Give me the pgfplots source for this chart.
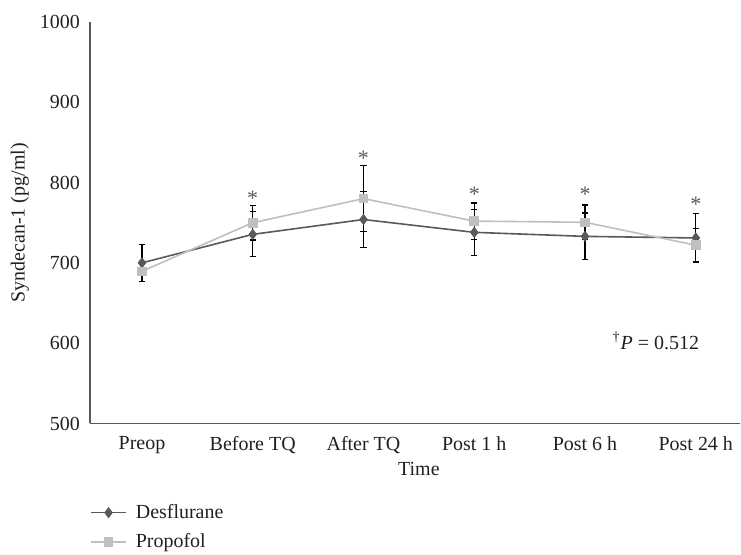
\documentclass[border=0pt]{standalone}
\usepackage{pgfplots}
\pgfplotsset{compat=1.18}
\usepackage{fontspec}
\setmainfont{Liberation Serif}
\definecolor{desc}{HTML}{595959}
\definecolor{propc}{HTML}{BFBFBF}
\definecolor{axc}{HTML}{595959}
\definecolor{txt}{HTML}{231F20}
\begin{document}
\begin{tikzpicture}
\begin{axis}[
  name=ax, scale only axis, width=325.5pt, height=201pt,
  xmin=-0.47, xmax=5.4, ymin=500, ymax=1000,
  axis lines=left, axis line style={axc, line width=0.9pt, -},
  xtick={0,...,5},
  xticklabels={Preop, Before TQ, After TQ, Post 1 h, Post 6 h, Post 24 h},
  ytick={500,600,...,1000},
  major tick length=0pt,
  tick label style={font=\fontsize{10}{12}\selectfont, text=txt},
  xticklabel style={yshift=-3pt},
  yticklabel style={xshift=-1.5pt},
  /pgf/number format/assume math mode=true,
  /pgf/number format/1000 sep={},
  xlabel={Time},
  xlabel style={at={(axis description cs:0.506,0)}, anchor=base, yshift=-26pt, font=\fontsize{10}{12}\selectfont, text=txt},
  ylabel={Syndecan-1 (pg/ml)},
  ylabel style={at={(axis description cs:0,0.5)}, anchor=center, rotate=0, yshift=35pt, font=\fontsize{10}{12}\selectfont, text=txt},
  clip=false,
  legend style={at={(axis description cs:0,-0.19)}, anchor=north west, draw=none, fill=none,
    font=\fontsize{10}{12}\selectfont, text=txt, inner sep=0pt, row sep=2pt, column sep=2.5pt},
  legend cell align=left,
  legend image code/.code={\draw[mark repeat=2,mark phase=2,#1] plot coordinates {(0pt,0pt) (8.75pt,0pt) (17.5pt,0pt)};},
  error bars/error bar style={black, line width=0.6pt},
  error bars/error mark options={rotate=90, black, mark size=1.6pt, line width=0.6pt},
]
\addplot[desc, line width=0.8pt, mark=diamond*, mark size=2.2pt, mark options={fill=desc, draw=desc},
  error bars/.cd, y dir=both, y explicit]
  coordinates {
  (0,700) +- (0,23)
  (1,735.5) +- (0,28)
  (2,754) +- (0,34.5)
  (3,738) +- (0,28.5)
  (4,733) +- (0,29)
  (5,731) +- (0,30)
  };
\addlegendentry{Desflurane}
\addplot[propc, line width=0.8pt, mark=square*, mark size=2pt, mark options={fill=propc, draw=propc},
  error bars/.cd, y dir=both, y explicit]
  coordinates {
  (0,689.5) +- (0,12.5)
  (1,750) +- (0,21.5)
  (2,780) +- (0,41)
  (3,752) +- (0,22.5)
  (4,750.5) +- (0,21.5)
  (5,722) +- (0,21)
  };
\addlegendentry{Propofol}
\node[text=desc, font=\fontsize{11}{12}\selectfont] at (axis cs:1,780) {*};
\node[text=desc, font=\fontsize{11}{12}\selectfont] at (axis cs:2,830) {*};
\node[text=desc, font=\fontsize{11}{12}\selectfont] at (axis cs:3,785) {*};
\node[text=desc, font=\fontsize{11}{12}\selectfont] at (axis cs:4,785) {*};
\node[text=desc, font=\fontsize{11}{12}\selectfont] at (axis cs:5,773) {*};
\node[text=txt, font=\fontsize{10}{12}\selectfont] at (axis cs:4.64,603) {\textsuperscript{\dag}\textit{P} = 0.512};
\end{axis}
\path ([xshift=-45pt,yshift=-65pt]ax.south west);
\path ([yshift=11pt]ax.north west);
\end{tikzpicture}
\end{document}
